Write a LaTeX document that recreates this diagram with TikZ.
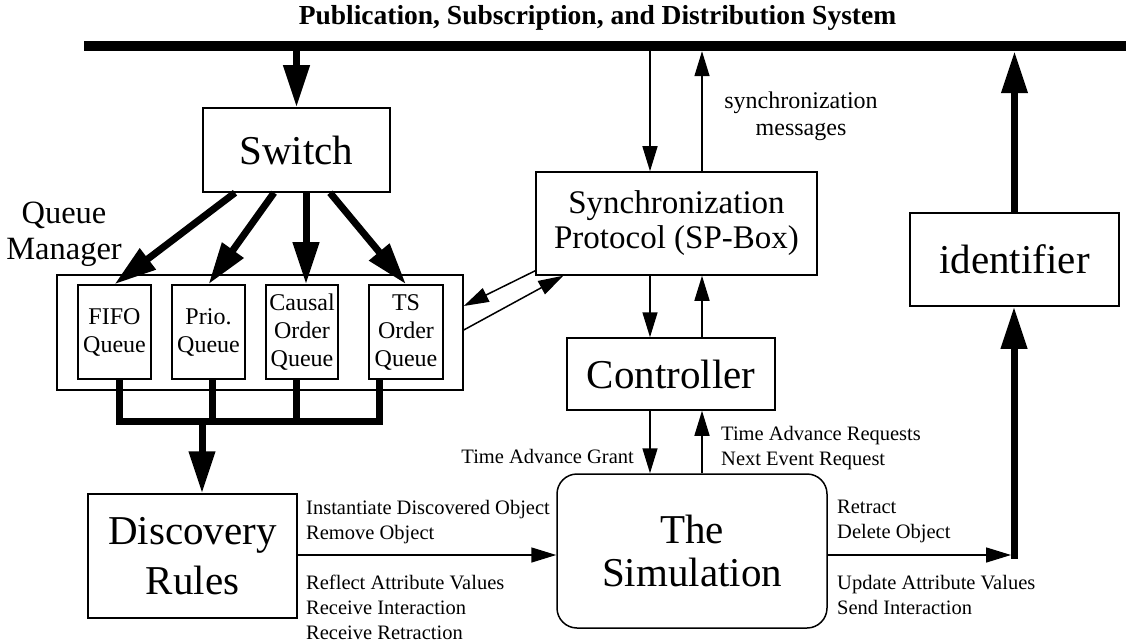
\documentclass[tikz,border=0pt]{standalone}
\usepackage{fontspec}
\setmainfont{Liberation Serif}
\usetikzlibrary{arrows.meta,calc}
\begin{document}
\begin{tikzpicture}[x=1pt,y=-1pt,
  box/.style={draw, line width=1.5pt, inner sep=0pt, align=center},
  big/.style={font=\fontsize{41}{50}\selectfont},
  qbox/.style={box, font=\fontsize{24}{28}\selectfont, minimum width=73pt, minimum height=94pt},
  ta/.style={line width=1.5pt, -{Triangle[length=25pt,width=15pt]}},
  tha/.style={line width=7pt, -{Triangle[length=42pt,width=25pt]}},
  thl/.style={line width=7pt},
  lbl/.style={inner sep=0pt, align=left, font=\fontsize{20.5}{25}\selectfont}]
\useasboundingbox (0,0) rectangle (1126,644);
% title and bus
\node[font=\fontsize{27.5}{30}\selectfont\bfseries, anchor=base, inner sep=0pt] (title) at (597.5,25) {Publication, Subscription, and Distribution System};
\node[fill=black, inner sep=0pt, minimum width=1042pt, minimum height=10pt] (bus) at (605,46) {};
% boxes
\node[box, big, minimum width=187pt, minimum height=84pt] (sw) at (296.5,150) {Switch};
\node[box, font=\fontsize{33}{35}\selectfont, minimum width=281pt, minimum height=103pt] (sp) at (676.5,223.5) {Synchronization\\Protocol (SP-Box)};
\node[box, big, minimum width=209pt, minimum height=93pt] (id) at (1014.5,259.5) {identifier};
\node[box, minimum width=406pt, minimum height=115pt] (qm) at (260,332.5) {};
\node[qbox] (fifo) at (114.5,332) {FIFO\\Queue};
\node[qbox] (prio) at (208.5,332) {Prio.\\Queue};
\node[qbox, minimum width=72pt] (causal) at (302,332) {Causal\\Order\\Queue};
\node[qbox, minimum width=74pt] (ts) at (406,332) {TS\\Order\\Queue};
\node[box, big, minimum width=208pt, minimum height=72pt] (ctrl) at (671,374) {Controller};
\node[box, rounded corners=20pt, minimum width=270pt, minimum height=154pt, font=\fontsize{41}{43}\selectfont] (sim) at (692,551) {The\\Simulation};
\node[box, big, minimum width=209pt, minimum height=124pt] (disc) at (192.5,556) {Discovery\\Rules};
% labels
\node[inner sep=0pt, align=center, font=\fontsize{32.5}{36}\selectfont, anchor=north] (qml) at (64,197.8) {\strut Queue\\Manager};
\node[inner sep=0pt, align=center, font=\fontsize{24}{27}\selectfont, anchor=north] (sm) at (801,89.1) {\strut synchronization\\messages};
\node[lbl, anchor=north west] (l1) at (306,496.5) {\strut Instantiate Discovered Object\\Remove Object};
\node[lbl, anchor=north west] (l2) at (306,571.5) {\strut Reflect Attribute Values\\Receive Interaction\\Receive Retraction};
\node[lbl, align=right, anchor=north east] (l3) at (634,445.5) {\strut Time Advance Grant};
\node[lbl, anchor=north west] (l4) at (721,422.5) {\strut Time Advance Requests\\Next Event Request};
\node[lbl, anchor=north west] (l5) at (837,495.5) {\strut Retract\\Delete Object};
\node[lbl, anchor=north west] (l6) at (837,571.5) {\strut Update Attribute Values\\Send Interaction};
% helper coordinates
\coordinate (xa) at (650,0);
\coordinate (xb) at (702,0);
\coordinate (jn) at (202,421);
\coordinate (cr) at (1014,555);
% bus to switch
\draw[tha] (bus.south -| sw.north) -- (sw.north);
% switch to queues
\draw[tha] ([xshift=-61.5pt]sw.south) -- (fifo.north);
\draw[tha] ([xshift=-22.5pt]sw.south) -- (prio.north);
\draw[tha] ([xshift=4pt]causal.north |- sw.south) -- ([xshift=4pt]causal.north);
\draw[tha] ([xshift=33.5pt]sw.south) -- (ts.north);
% queues to discovery
\draw[thl] ([xshift=4.5pt]fifo.south) -- ([xshift=4.5pt]fifo.south |- jn);
\draw[thl] ([xshift=3.5pt]prio.south) -- ([xshift=3.5pt]prio.south |- jn);
\draw[thl] ([xshift=-6pt]causal.south) -- ([xshift=-6pt]causal.south |- jn);
\draw[thl] ([xshift=-27pt]ts.south) -- ([xshift=-27pt]ts.south |- jn);
\draw[thl, line cap=rect] ([xshift=4.5pt]fifo.south |- jn) -- ([xshift=-27pt]ts.south |- jn);
\draw[tha] (jn) -- (disc.north -| jn);
% SP-box links
\draw[ta] (bus.south -| xa) -- (sp.north -| xa);
\draw[ta] (sp.north -| xb) -- (bus.south -| xb);
\draw[ta] (sp.south -| xa) -- (ctrl.north -| xa);
\draw[ta] (ctrl.north -| xb) -- (sp.south -| xb);
\draw[ta] (ctrl.south -| xa) -- (sim.north -| xa);
\draw[ta] (sim.north -| xb) -- (ctrl.south -| xb);
\draw[ta] ([yshift=5pt]sp.south west) -- ([yshift=26.5pt]qm.east);
\draw[ta] ([yshift=2.5pt]qm.east) -- ([xshift=28pt]sp.south west);
% discovery to simulation
\draw[ta] (disc.east |- cr) -- (sim.west |- cr);
% simulation to identifier to bus
\draw[ta] (sim.east |- cr) -- ([xshift=-3pt]cr);
\draw[tha] ([yshift=-3.5pt]cr) -- (id.south -| cr);
\draw[tha] (id.north) -- (id.north |- bus.south);
\end{tikzpicture}
\end{document}
